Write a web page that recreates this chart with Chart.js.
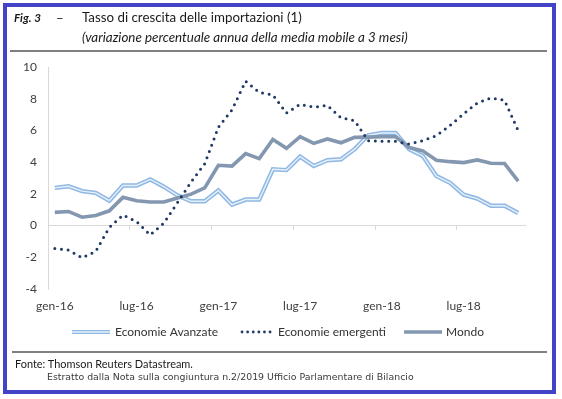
<!DOCTYPE html>
<html><head><meta charset="utf-8">
<script src="https://cdn.jsdelivr.net/npm/chart.js@4.4.1/dist/chart.umd.min.js"></script>
<style>
html,body{margin:0;padding:0;background:#fff;}
body{width:562px;height:399px;position:relative;overflow:hidden;font-family:Lato,"Open Sans",sans-serif;color:#1a1a1a;}
#frame{position:absolute;left:3px;top:3px;width:545px;height:383px;border:4px solid #4343c8;box-sizing:content-box;}
.t{position:absolute;white-space:nowrap;line-height:1;}
#rule1{position:absolute;left:10px;top:50px;width:537px;height:2px;background:#808080;}
#rule2{position:absolute;left:12px;top:351px;width:535px;height:2px;background:#808080;}
#wrap{position:absolute;left:0;top:0;width:562px;height:399px;}
</style></head>
<body>
<div id="frame"></div>
<div id="rule1"></div>
<div id="rule2"></div>
<div id="wrap"><canvas id="c" width="562" height="399" style="width:562px;height:399px"></canvas></div>
<div class="t" id="fig" style="left:14px;top:12px;font-weight:bold;font-style:italic;font-size:13px;">Fig. 3</div>
<div class="t" id="dash" style="left:56px;top:12px;font-size:13px;">–</div>
<div class="t" id="ttl" style="left:82px;top:11px;font-size:14px;">Tasso di crescita delle importazioni (1)</div>
<div class="t" id="sub" style="left:82px;top:31px;font-size:12px;font-style:italic;">(variazione percentuale annua della media mobile a 3 mesi)</div>
<div class="t" id="fonte" style="left:15px;top:359px;font-size:12px;">Fonte: Thomson Reuters Datastream.</div>
<div class="t" id="estr" style="left:47px;top:372px;font-size:9px;color:#3a3a3a;font-family:'DejaVu Sans',sans-serif;">Estratto dalla Nota sulla congiuntura n.2/2019 Ufficio Parlamentare di Bilancio</div>
<script>
// ---- data ----
const categories = ['gen-16','feb-16','mar-16','apr-16','mag-16','giu-16','lug-16','ago-16','set-16','ott-16','nov-16','dic-16',
  'gen-17','feb-17','mar-17','apr-17','mag-17','giu-17','lug-17','ago-17','set-17','ott-17','nov-17','dic-17',
  'gen-18','feb-18','mar-18','apr-18','mag-18','giu-18','lug-18','ago-18','set-18','ott-18','nov-18'];
const tickLabels = ['gen-16','lug-16','gen-17','lug-17','gen-18','lug-18'];
const yTicks = [-4,-2,0,2,4,6,8,10];
const avanzate = [2.38,2.48,2.17,2.06,1.57,2.53,2.53,2.91,2.45,1.91,1.53,1.53,
  2.21,1.32,1.64,1.64,3.55,3.5,4.35,3.76,4.12,4.18,4.82,5.7,
  5.84,5.84,4.82,4.39,3.12,2.70,1.95,1.70,1.25,1.25,0.79];
const emergenti = [-1.44,-1.55,-2.03,-1.63,-0.12,0.66,0.25,-0.59,0.15,1.45,2.75,3.9,
  6.2,7.3,9.1,8.4,8.24,7.1,7.65,7.47,7.58,6.8,6.62,5.35,
  5.31,5.31,5.14,5.35,5.67,6.31,7.05,7.73,8.05,7.90,5.99];
const mondo = [0.83,0.89,0.53,0.64,0.93,1.78,1.57,1.49,1.49,1.74,1.98,2.38,
  3.80,3.75,4.54,4.22,5.43,4.87,5.61,5.18,5.46,5.22,5.56,5.58,
  5.61,5.61,4.92,4.71,4.12,4.03,3.97,4.14,3.93,3.91,2.80];
const seriesNames = ['Economie Avanzate','Economie emergenti','Mondo'];

// ---- fit text widths ----
function fit(id, w){const el=document.getElementById(id);const s=parseFloat(getComputedStyle(el).fontSize);const r=el.getBoundingClientRect().width;el.style.fontSize=(s*w/r)+'px';}
fit('fig',27); fit('ttl',220); fit('sub',326); fit('fonte',178); fit('estr',367);

// ---- legend samples ----
const C_AV='#8fb8e3', C_AV_IN='#e6f0fb', C_EM='#1f3864', C_MO='#8497b0';
function sample(kind){
  const c=document.createElement('canvas'); c.width=40; c.height=8;
  const g=c.getContext('2d');
  if(kind===0){g.strokeStyle=C_AV;g.lineWidth=4.2;g.beginPath();g.moveTo(1,4);g.lineTo(39,4);g.stroke();
    g.strokeStyle=C_AV_IN;g.lineWidth=1.4;g.beginPath();g.moveTo(1,4);g.lineTo(39,4);g.stroke();}
  else if(kind===1){g.fillStyle=C_EM;for(let i=0;i<6;i++){g.beginPath();g.arc(8+i*5.6,4,1.4,0,Math.PI*2);g.fill();}}
  else {g.strokeStyle=C_MO;g.lineWidth=3.5;g.beginPath();g.moveTo(2,4);g.lineTo(40,4);g.stroke();}
  return c;
}
const samples=[sample(0),sample(1),sample(2)];

Chart.defaults.font.family='Lato';
Chart.defaults.color='#404040';

const shiftLegend={id:'shiftLegend',afterLayout(chart){const l=chart.legend;if(l){l.left+=11;l.right+=11;l.top-=10;l.bottom-=10;}}};

new Chart(document.getElementById('c'),{
  type:'line',
  data:{labels:categories,datasets:[
    {label:seriesNames[0],data:avanzate,borderColor:C_AV,borderWidth:4.4,pointRadius:0,tension:0,order:3},
    {label:'_in',data:avanzate,borderColor:C_AV_IN,borderWidth:1.4,pointRadius:0,tension:0,order:2},
    {label:seriesNames[1],data:emergenti,borderColor:C_EM,borderWidth:3,borderDash:[0,6.7],borderCapStyle:'round',pointRadius:0,tension:0,order:0},
    {label:seriesNames[2],data:mondo,borderColor:C_MO,borderWidth:3.6,pointRadius:0,tension:0,order:1}
  ]},
  plugins:[shiftLegend],
  options:{
    responsive:false,animation:false,devicePixelRatio:1,
    layout:{padding:{left:10,right:37,top:67,bottom:41}},
    plugins:{
      tooltip:{enabled:false},
      legend:{position:'bottom',
        labels:{usePointStyle:true,pointStyleWidth:36,boxHeight:8,padding:18,font:{size:12},color:'#333',
          generateLabels:(chart)=>[0,1,2].map(k=>({text:seriesNames[k],pointStyle:samples[k],datasetIndex:[0,2,3][k],hidden:false,lineWidth:0,strokeStyle:'rgba(0,0,0,0)',fillStyle:'rgba(0,0,0,0)',fontColor:'#333'}))
        }}
    },
    scales:{
      x:{type:'category',position:'bottom',offset:true,
        grid:{display:false,drawTicks:false},border:{display:false},
        ticks:{autoSkip:false,maxRotation:0,minRotation:0,padding:10,font:{size:12},color:'#404040',
          callback:(v,i)=>tickLabels.includes(categories[i])?categories[i]:''},
        afterFit:(s)=>{s.height=29;}},
      x0:{type:'category',axis:'x',position:{y:0},offset:true,
        grid:{display:true,offset:true,drawOnChartArea:false,drawTicks:true,tickLength:4,
          color:(ctx)=>(ctx.index%6===0?'#d9d9d9':'rgba(0,0,0,0)'),lineWidth:1},
        border:{display:true,color:'#d9d9d9',width:1},
        ticks:{display:false,autoSkip:false}},
      y:{min:-4,max:10,position:'left',
        grid:{display:false,drawTicks:false},border:{display:true,color:'#d9d9d9',width:1},
        afterBuildTicks:(s)=>{s.ticks=yTicks.map(v=>({value:v}));},
        ticks:{padding:11,font:{size:12},color:'#404040'},
        afterFit:(s)=>{s.width=38;}}
    }
  }
});
</script>
</body></html>
